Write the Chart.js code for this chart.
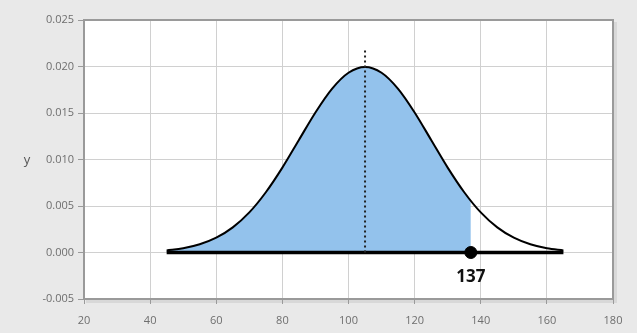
<!DOCTYPE html>
<html>
<head>
<meta charset="utf-8">
<script src="https://cdn.jsdelivr.net/npm/chart.js@4.4.0/dist/chart.umd.min.js"></script>
<style>
  html, body { margin: 0; padding: 0; background: #e9e9e9; }
  #wrap { width: 637px; height: 333px; }
</style>
</head>
<body>
<div id="wrap"><canvas id="grafico"></canvas></div>
<script>
// Curva (x cada 5 unidades)
const curvaX = [45, 50, 55, 60, 65, 70, 75, 80, 85, 90, 95, 100, 105, 110, 115, 120, 125, 130, 135, 140, 145, 150, 155, 160, 165];
const curvaY = [0.00022, 0.00045, 0.00088, 0.00159, 0.00270, 0.00431, 0.00648, 0.00913, 0.01210, 0.01506, 0.01760, 0.01933, 0.01995,
                0.01933, 0.01760, 0.01506, 0.01210, 0.00913, 0.00648, 0.00431, 0.00270, 0.00159, 0.00088, 0.00045, 0.00022];
const corte = 137;
const corteY = 0.00555;
const media = 105;
const mediaTope = 0.0218;
const xTicks = [20, 40, 60, 80, 100, 120, 140, 160, 180];
const yTicks = [-0.005, 0, 0.005, 0.010, 0.015, 0.020, 0.025];

const puntosCurva = curvaX.map((x, i) => ({ x, y: curvaY[i] }));
const puntosArea = puntosCurva.filter(p => p.x < corte).concat([{ x: corte, y: corteY }]);

const bordePlugin = {
    id: 'bordeArea',
    beforeDraw: (chart) => {
        const { ctx, chartArea: { left, right, top, bottom } } = chart;
        ctx.save();
        ctx.fillStyle = 'rgba(0,0,0,0.07)';
        ctx.fillRect(left + 2, top + 2, right - left + 2, bottom - top + 2);
        ctx.fillStyle = '#fff';
        ctx.fillRect(left, top, right - left, bottom - top);
        ctx.restore();
    },
    afterDraw: (chart) => {
        const { ctx, chartArea: { left, right, top, bottom } } = chart;
        ctx.save();
        ctx.strokeStyle = '#9a9a9a';
        ctx.lineWidth = 2;
        ctx.strokeRect(left, top, right - left, bottom - top);
        // etiqueta del corte
        const px = chart.scales.x.getPixelForValue(corte);
        const py = chart.scales.y.getPixelForValue(0);
        ctx.fillStyle = '#111';
        ctx.font = 'bold 17px "Open Sans", sans-serif';
        ctx.textAlign = 'center';
        ctx.textBaseline = 'middle';
        ctx.fillText(String(corte), px, py + 25);
        // título eje y
        ctx.fillStyle = '#555';
        ctx.font = '13px "Open Sans", sans-serif';
        ctx.fillText('y', 27, 160);
        ctx.restore();
    }
};

new Chart(document.getElementById('grafico'), {
    type: 'scatter',
    data: {
        datasets: [
            {
                data: puntosArea,
                showLine: true,
                fill: 'origin',
                backgroundColor: '#93c2ec',
                borderWidth: 0,
                pointRadius: 0,
                cubicInterpolationMode: 'monotone',
                order: 5
            },
            {
                data: puntosCurva,
                showLine: true,
                borderColor: '#000',
                borderWidth: 2,
                pointRadius: 0,
                cubicInterpolationMode: 'monotone',
                order: 4
            },
            {
                data: [{ x: curvaX[0], y: 0 }, { x: curvaX[curvaX.length - 1], y: 0 }],
                showLine: true,
                borderColor: '#000',
                borderWidth: 3.5,
                pointRadius: 0,
                order: 3
            },
            {
                data: [{ x: media, y: 0 }, { x: media, y: mediaTope }],
                showLine: true,
                borderColor: '#222',
                borderWidth: 2,
                borderDash: [2, 3],
                pointRadius: 0,
                order: 2
            },
            {
                data: [{ x: corte, y: 0 }],
                pointRadius: 6,
                backgroundColor: '#000',
                borderColor: '#000',
                order: 1
            }
        ]
    },
    options: {
        responsive: true,
        maintainAspectRatio: false,
        animation: false,
        layout: { padding: { left: 0, right: 24, top: 20, bottom: 0 } },
        plugins: { legend: { display: false }, tooltip: { enabled: false } },
        scales: {
            x: {
                type: 'linear',
                min: 20, max: 180,
                afterBuildTicks: (s) => { s.ticks = xTicks.map(v => ({ value: v })); },
                afterFit: (s) => { s.height = 34; },
                ticks: { color: '#6e6e6e', font: { family: '"Open Sans", sans-serif', size: 11 }, padding: 10 },
                grid: { color: '#d0d0d0', tickColor: '#9a9a9a', tickLength: 5 },
                border: { display: false }
            },
            y: {
                min: -0.005, max: 0.025,
                afterBuildTicks: (s) => { s.ticks = yTicks.map(v => ({ value: v })); },
                afterFit: (s) => { s.width = 84; },
                ticks: {
                    color: '#6e6e6e',
                    font: { family: '"Open Sans", sans-serif', size: 11 },
                    padding: 4,
                    callback: (v) => v.toFixed(3)
                },
                grid: { color: '#d0d0d0', tickColor: '#9a9a9a', tickLength: 6 },
                border: { display: false }
            }
        }
    },
    plugins: [bordePlugin]
});
</script>
</body>
</html>
